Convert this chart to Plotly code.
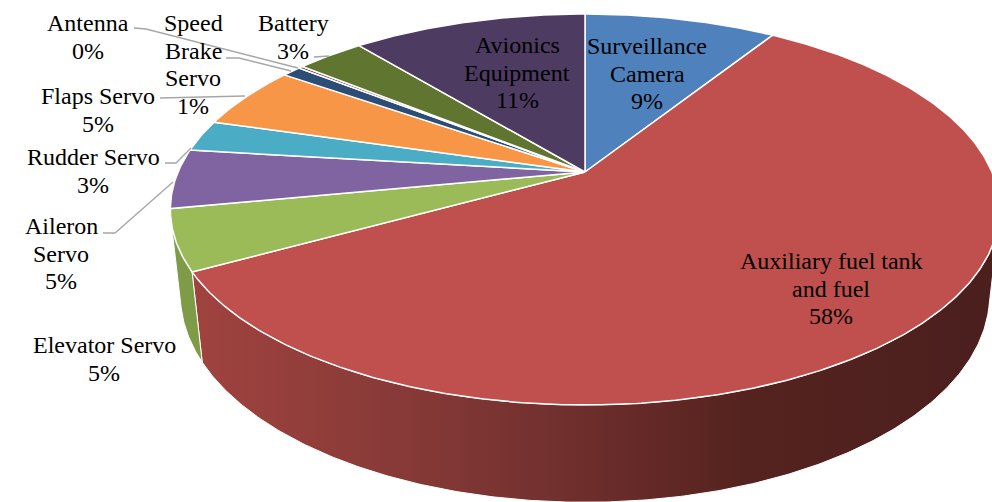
import math
import plotly.graph_objects as go

# ---------------- data ----------------
categories = ["Surveillance Camera", "Auxiliary fuel tank and fuel", "Elevator Servo",
              "Aileron Servo", "Rudder Servo", "Flaps Servo", "Speed Brake Servo",
              "Antenna", "Battery", "Avionics Equipment"]
values = [9.0, 58.0, 5.0, 4.9, 2.6, 5.2, 0.9, 0.2, 3.2, 11.0]
label_lines = [["Surveillance", "Camera"], ["Auxiliary fuel tank", "and fuel"], ["Elevator Servo"],
               ["Aileron", "Servo"], ["Rudder Servo"], ["Flaps Servo"], ["Speed", "Brake", "Servo"],
               ["Antenna"], ["Battery"], ["Avionics", "Equipment"]]
colors = ["#4F81BD", "#C0504D", "#9BBB59", "#8064A2", "#4BACC6", "#F79646",
          "#2C4D75", "#772C2A", "#5F7530", "#4D3B62"]
wall_colors = ["#3b6190", "#903c3a", "#7e9b48", "#604b7a", "#388196", "#b97035",
               "#213a58", "#591f1f", "#475824", "#3a2c4a"]

# ---------------- 3D pie projection (layout constants) ----------------
CX, CY = 585.0, 172.0        # screen position of pie centre
F = 1880.0                   # focal scale
L = 4.62                     # camera distance (in pie radii)
PHI = math.asin(0.4626)      # elevation angle
DEPTH = 0.24                 # pie thickness (in radii)


def proj(theta_deg, z=0.0, r=1.0):
    t = math.radians(theta_deg)
    u, v = r * math.cos(t), r * math.sin(t)
    dp = L + v * math.cos(PHI) - z * math.sin(PHI)
    x = CX + F * u / dp
    y = CY - F * (v * math.sin(PHI) + z * math.cos(PHI)) / dp
    return x, y


def arc(a0, a1, z=0.0):
    n = max(2, int(abs(a1 - a0) / 0.5) + 1)
    return [proj(a0 + (a1 - a0) * i / (n - 1), z) for i in range(n)]


total = sum(values)
starts, ends = [], []
acc = 0.0
for v in values:
    a0 = 90.0 - 360.0 * acc / total
    acc += v
    a1 = 90.0 - 360.0 * acc / total
    starts.append(a0)
    ends.append(a1)

# visible range of the outer wall
lim = math.degrees(math.asin(1.0 / (L * math.cos(PHI))))
vis_hi = -lim
vis_lo = -180.0 + lim

fig = go.Figure()

# outer walls (front part)
for i in range(len(values)):
    hi = min(starts[i], vis_hi)
    lo = max(ends[i], vis_lo)
    if hi <= lo:
        continue
    top = arc(hi, lo, 0.0)
    bot = arc(lo, hi, -DEPTH)
    pts = top + bot + [top[0]]
    kw = {}
    if i == 1:
        kw["fillgradient"] = dict(type="horizontal",
                                  colorscale=[[0.0, "#a0433f"], [0.3, "#833836"],
                                              [0.5, "#6c2d2b"], [0.68, "#55231f"],
                                              [1.0, "#4a1f1e"]])
    fig.add_trace(go.Scatter(x=[p[0] for p in pts], y=[p[1] for p in pts],
                             mode="lines", fill="toself", fillcolor=wall_colors[i],
                             line=dict(color="white", width=1),
                             hoverinfo="skip", showlegend=False, **kw))

# top faces
for i in range(len(values)):
    c = proj(0, 0, 0.0)
    pts = [c] + arc(starts[i], ends[i], 0.0) + [c]
    fig.add_trace(go.Scatter(x=[p[0] for p in pts], y=[p[1] for p in pts],
                             mode="lines", fill="toself", fillcolor=colors[i],
                             line=dict(color="white", width=1.5),
                             hoverinfo="skip", showlegend=False))

# ---------------- labels ----------------
label_pos = {
    "Surveillance Camera": (647, 46),
    "Auxiliary fuel tank and fuel": (831, 261),
    "Elevator Servo": (104, 345),
    "Aileron Servo": (61, 226),
    "Rudder Servo": (93, 157),
    "Flaps Servo": (98, 96),
    "Speed Brake Servo": (193, 23),
    "Antenna": (88, 23),
    "Battery": (293, 23),
    "Avionics Equipment": (517, 45),
}
LINE_GAP = 27.5
for name, lines, v in zip(categories, label_lines, values):
    x, y0 = label_pos[name]
    all_lines = lines + [f"{round(v / total * 100)}%"]
    for j, txt in enumerate(all_lines):
        fig.add_annotation(x=x, y=y0 + j * LINE_GAP, xref="x", yref="y", showarrow=False,
                           text=txt,
                           font=dict(family="Liberation Serif", size=24, color="#000000"),
                           xanchor="center", yanchor="middle")

leaders = [
    [(134, 28), (146, 29), (298, 68)],     # Antenna
    [(226, 58), (239, 58), (291, 71)],     # Speed Brake Servo
    [(314, 57), (329, 56)],                # Battery
    [(160, 98), (245, 96)],                # Flaps Servo
    [(165, 163), (176, 163), (191, 148)],  # Rudder Servo
    [(103, 233), (115, 233), (173, 182)],  # Aileron Servo
]
for seg in leaders:
    fig.add_trace(go.Scatter(x=[p[0] for p in seg], y=[p[1] for p in seg],
                             mode="lines", line=dict(color="#a6a6a6", width=1.3),
                             hoverinfo="skip", showlegend=False))

fig.update_layout(
    width=992, height=502,
    margin=dict(l=0, r=0, t=0, b=0),
    paper_bgcolor="white", plot_bgcolor="white",
    xaxis=dict(range=[0, 992], visible=False, fixedrange=True),
    yaxis=dict(range=[502, 0], visible=False, fixedrange=True),
    showlegend=False,
    hovermode=False,
)
# remove the default 8px page margin so the figure fills the window exactly
fig.write_html("out.html",
               config={"displayModeBar": False, "staticPlot": True},
               post_script="document.body.style.margin='0px';document.body.style.overflow='hidden';")
